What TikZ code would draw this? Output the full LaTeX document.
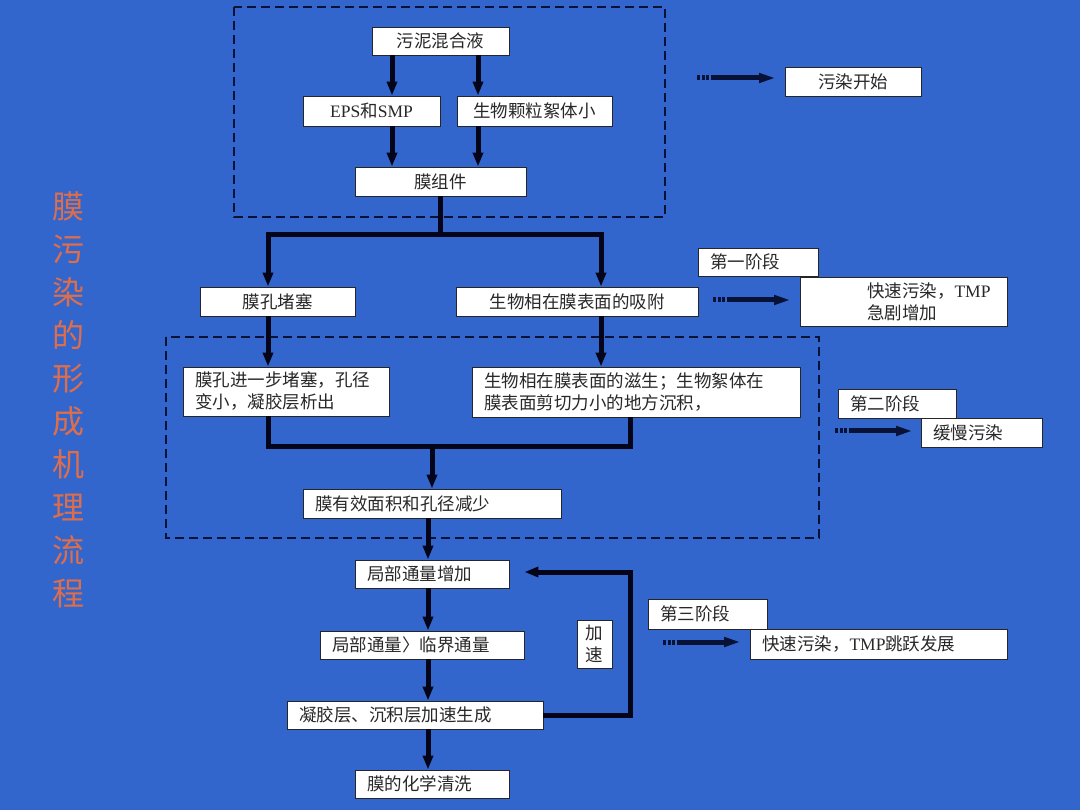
\documentclass[tikz,border=0pt]{standalone}
\usepackage{fontspec}
\setmainfont{Noto Sans CJK SC}
\newfontfamily\lat{Liberation Serif}
\usetikzlibrary{arrows.meta}
\definecolor{bg}{RGB}{51,102,204}
\definecolor{flowc}{RGB}{5,5,25}
\definecolor{frm}{RGB}{8,18,55}
\definecolor{ttlc}{RGB}{222,110,75}
\definecolor{txt}{RGB}{40,40,40}
\begin{document}
\begin{tikzpicture}[x=1pt,y=-1pt,
  box/.style={draw=black!85, line width=0.9pt, fill=white, text=txt,
    font=\fontsize{17.5}{22}\selectfont, inner sep=0pt},
  cbox/.style={box, minimum width=#1, align=center},
  lbox/.style={box, inner xsep=12pt, text width=#1, align=left},
  flow/.style={line width=5pt, draw=flowc, -{Triangle[length=14pt,width=10pt]}},
  conn/.style={line width=5pt, draw=flowc},
  frame/.style={draw=frm, line width=2pt, dash pattern=on 9pt off 5pt},
  darr/.style={line width=5pt, draw=frm,
    dash pattern=on 3pt off 1.5pt on 3pt off 1.5pt on 3pt off 1.5pt on 300pt off 1pt,
    -{Triangle[length=17pt,width=9pt]}},
  ttl/.style={text=ttlc, font=\fontsize{32}{43}\selectfont, align=center, inner sep=0pt}
]
\useasboundingbox (0,0) rectangle (1080,810);
\fill[bg] (0,0) rectangle (1080,810);

% frames
\draw[frame] (234,7) rectangle (665,217);
\draw[frame] (166,337) rectangle (819,538);

% title
\node[ttl] (ttl) at (68,400) {膜\\污\\染\\的\\形\\成\\机\\理\\流\\程};

% top block
\node[cbox=137pt, minimum height=28pt] (n1) at (440.5,41) {污泥混合液};
\node[cbox=137pt, minimum height=30pt] (eps) at (371.5,111) {{\lat EPS}和{\lat SMP}};
\node[cbox=155pt, minimum height=30pt] (bio) at (534.5,111) {生物颗粒絮体小};
\node[cbox=171pt, minimum height=29pt] (mod) at (440.5,181.5) {膜组件};

\node[cbox=155pt, minimum height=29pt] (block) at (277.5,301.5) {膜孔堵塞};
\node[cbox=242pt, minimum height=29pt] (adsorb) at (577,301.5) {生物相在膜表面的吸附};

\node[lbox=182pt, minimum height=49pt] (fur) at (286,391.5) {膜孔进一步堵塞，孔径\\变小，凝胶层析出};
\node[lbox=304pt, minimum height=50pt] (grow) at (636,392) {生物相在膜表面的滋生；生物絮体在\\膜表面剪切力小的地方沉积，};

\node[lbox=234pt, minimum height=29pt] (area) at (432,503.5) {膜有效面积和孔径减少};
\node[lbox=130pt, minimum height=28pt] (flux) at (432,574) {局部通量增加};
\node[lbox=180pt, minimum height=28pt] (crit) at (422,645) {局部通量〉临界通量};
\node[lbox=232pt, minimum height=28pt] (gel) at (415,715) {凝胶层、沉积层加速生成};
\node[lbox=130pt, minimum height=28pt] (clean) at (432,784) {膜的化学清洗};
\node[cbox=35pt, minimum height=48pt] (jiasu) at (594.5,644) {加\\速};

% right side
\node[cbox=136pt, minimum height=29pt] (s0) at (853,81.5) {污染开始};
\node[lbox=96pt, minimum height=28pt] (st1) at (758,262) {第一阶段};
\node[lbox=183pt, minimum height=49pt] (r1) at (903.5,301.5) {\hspace*{55pt}快速污染，{\lat TMP}\\\hspace*{55pt}急剧增加};
\node[lbox=94pt, minimum height=29pt] (st2) at (897,403.5) {第二阶段};
\node[lbox=97pt, minimum height=29pt] (r2) at (981.5,432.5) {缓慢污染};
\node[lbox=95pt, minimum height=30pt] (st3) at (707.5,614) {第三阶段};
\node[lbox=233pt, minimum height=30pt] (r3) at (878.5,644) {快速污染，{\lat TMP}跳跃发展};

% column coordinates
\coordinate (ca) at (392,0);
\coordinate (cb) at (478,0);
\coordinate (cc) at (440,0);
\coordinate (jt) at (440,235);
\coordinate (cl) at (268,0);
\coordinate (cr) at (601,0);
\coordinate (cr2) at (630,0);
\coordinate (jm) at (432,447);
\coordinate (cm) at (428,0);
\coordinate (lp) at (630,0);

% top arrows
\draw[flow] (ca |- n1.south) -- (ca |- eps.north);
\draw[flow] (cb |- n1.south) -- (cb |- bio.north);
\draw[flow] (ca |- eps.south) -- (ca |- mod.north);
\draw[flow] (cb |- bio.south) -- (cb |- mod.north);

% branch
\draw[conn] (cc |- mod.south) -- (jt);
\draw[flow] (jt) -| (cl |- block.north);
\draw[flow] (jt) -| (cr |- adsorb.north);

% middle
\draw[flow] (cl |- block.south) -- (cl |- fur.north);
\draw[flow] (cr |- adsorb.south) -- (cr |- grow.north);
\draw[conn] (cl |- fur.south) |- (cr2 |- jm) -- (cr2 |- grow.south);
\draw[flow] (jm) -- (jm |- area.north);

% bottom chain
\draw[flow] (cm |- area.south) -- (cm |- flux.north);
\draw[flow] (cm |- flux.south) -- (cm |- crit.north);
\draw[flow] (cm |- crit.south) -- (cm |- gel.north);
\draw[flow] (cm |- gel.south) -- (cm |- clean.north);

% loop
\draw[flow, shorten >=15pt] (gel.east) -| ([yshift=2pt]lp |- flux.east) -- ([yshift=2pt]flux.east);

% dashed arrows
\coordinate (d0a) at (697,78);  \coordinate (d0b) at (776,78);
\coordinate (d1a) at (713,300); \coordinate (d1b) at (791,300);
\coordinate (d2a) at (835,431); \coordinate (d2b) at (913,431);
\coordinate (d3a) at (663,642); \coordinate (d3b) at (741,642);
\draw[darr] (d0a) -- (d0b);
\draw[darr] (d1a) -- (d1b);
\draw[darr] (d2a) -- (d2b);
\draw[darr] (d3a) -- (d3b);
\end{tikzpicture}
\end{document}
